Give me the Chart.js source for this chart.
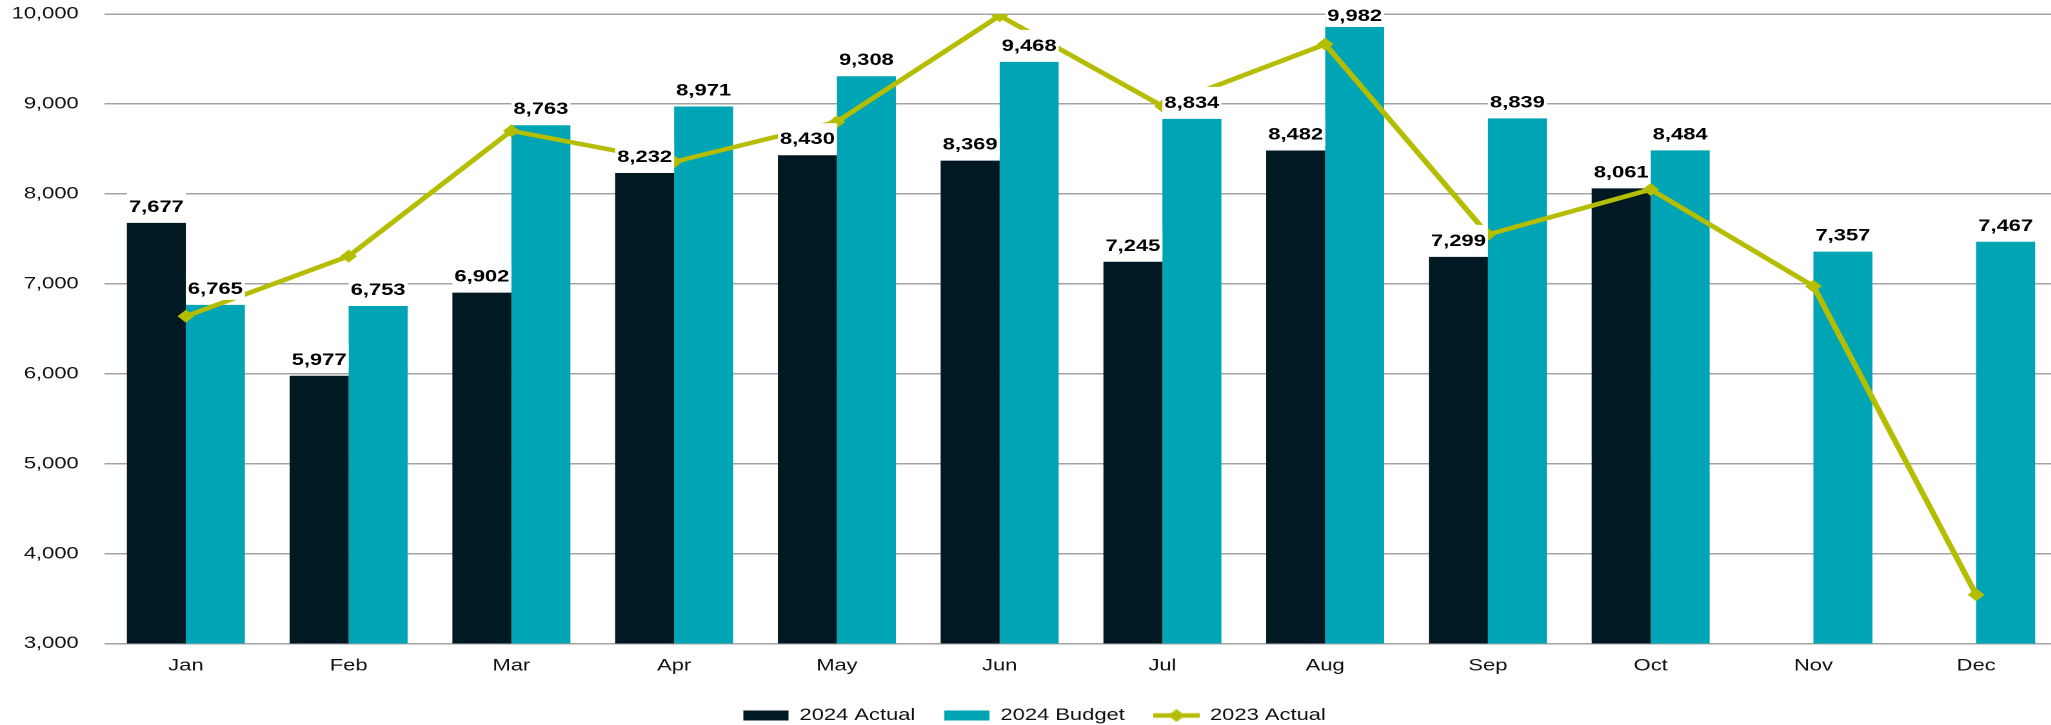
<!DOCTYPE html>
<html>
<head>
<meta charset="utf-8">
<title>Monthly Actual vs Budget</title>
<script src="https://cdn.jsdelivr.net/npm/chart.js@4/dist/chart.umd.min.js"></script>
<style>
    html, body { margin: 0; padding: 0; overflow: hidden; background: #fff; }
    /* the reference is drawn wide, text included, so stretch the whole chart */
    #wrap { position: relative; width: 1595px; height: 734px; transform: scaleX(1.29); transform-origin: 0 0; }
</style>
</head>
<body>
<div id="wrap"><canvas id="monthChart"></canvas></div>
<script>
const months = ['Jan', 'Feb', 'Mar', 'Apr', 'May', 'Jun', 'Jul', 'Aug', 'Sep', 'Oct', 'Nov', 'Dec'];
const actual2024 = [7677, 5977, 6902, 8232, 8430, 8369, 7245, 8482, 7299, 8061, null, null];
const budget2024 = [6765, 6753, 8763, 8971, 9308, 9468, 8834, 9982, 8839, 8484, 7357, 7467];
const actual2023 = [6639, 7307, 8701, 8356, 8802, 9981, 8976, 9663, 7548, 8049, 6973, 3542];
const yTicks = [3000, 4000, 5000, 6000, 7000, 8000, 9000, 10000];

const darkNavy = '#011923';
const teal = '#00A5B5';
const olive = '#B5BD00';
const fontFamily = '"Liberation Sans", Arial, sans-serif';

document.addEventListener('DOMContentLoaded', function () {
    renderMonthChart();
});

// small line + diamond used as the legend marker of the 2023 line
function lineMarker() {
    const c = document.createElement('canvas');
    c.width = 36;
    c.height = 14;
    const g = c.getContext('2d');
    g.strokeStyle = olive;
    g.lineWidth = 4.5;
    g.beginPath();
    g.moveTo(0, 7);
    g.lineTo(36, 7);
    g.stroke();
    g.fillStyle = olive;
    g.beginPath();
    g.moveTo(11.5, 7);
    g.lineTo(18, 0.5);
    g.lineTo(24.5, 7);
    g.lineTo(18, 13.5);
    g.closePath();
    g.fill();
    return c;
}

// value labels on white boxes above the bars
const barLabels = {
    id: 'barLabels',
    afterDatasetsDraw(chart) {
        const ctx = chart.ctx;
        ctx.save();
        ctx.font = 'bold 17px ' + fontFamily;
        ctx.textAlign = 'center';
        ctx.textBaseline = 'alphabetic';
        [0, 1].forEach(i => {
            const meta = chart.getDatasetMeta(i);
            meta.data.forEach((bar, j) => {
                const v = chart.data.datasets[i].data[j];
                if (v === null || v === undefined) return;
                const text = v.toLocaleString('en-US');
                const w = ctx.measureText(text).width;
                const bw = Math.min(w + 6, bar.width);
                const base = Math.max(bar.y - 11, 21);
                ctx.fillStyle = '#fff';
                ctx.fillRect(bar.x - bw / 2, base - 21, bw, 27);
                ctx.fillStyle = '#000';
                ctx.fillText(text, bar.x, base);
            });
        });
        ctx.restore();
    }
};

function renderMonthChart() {
    const ctx = document.getElementById('monthChart').getContext('2d');
    const marker = lineMarker();

    new Chart(ctx, {
        type: 'bar',
        data: {
            labels: months,
            datasets: [{
                label: '2024 Actual',
                data: actual2024,
                backgroundColor: darkNavy,
                borderWidth: 0,
                categoryPercentage: 0.725,
                barPercentage: 1.0
            }, {
                label: '2024 Budget',
                data: budget2024,
                backgroundColor: teal,
                borderWidth: 0,
                categoryPercentage: 0.725,
                barPercentage: 1.0
            }, {
                type: 'line',
                label: '2023 Actual',
                data: actual2023,
                borderColor: olive,
                backgroundColor: olive,
                borderWidth: 4.5,
                tension: 0,
                pointStyle: 'rectRot',
                pointRadius: 6.5,
                pointHoverRadius: 6.5,
                pointBorderWidth: 0,
                pointBackgroundColor: olive,
                order: -1   // draw the line over the bars
            }]
        },
        options: {
            responsive: true,
            maintainAspectRatio: false,
            devicePixelRatio: 2,
            animation: false,
            layout: {
                autoPadding: false,
                padding: { top: 14, left: 9, right: 0, bottom: 0 }
            },
            scales: {
                x: {
                    grid: { display: false, drawTicks: false },
                    border: { display: false },
                    ticks: {
                        padding: 12,
                        maxRotation: 0,
                        color: '#111',
                        font: { family: fontFamily, size: 17 }
                    },
                    afterFit: function (scale) {
                        scale.height = 41;
                        scale.paddingLeft = 0;
                        scale.paddingRight = 0;
                    }
                },
                y: {
                    min: yTicks[0],
                    max: yTicks[yTicks.length - 1],
                    afterBuildTicks: function (scale) {
                        scale.ticks = yTicks.map(v => ({ value: v }));
                    },
                    grid: { color: '#a3a3a3', lineWidth: 1.5, drawTicks: false },
                    border: { display: false },
                    ticks: {
                        padding: 20,
                        color: '#111',
                        font: { family: fontFamily, size: 17 },
                        callback: function (value) {
                            return value.toLocaleString('en-US');
                        }
                    },
                    afterFit: function (scale) {
                        scale.width = 72;
                        scale.paddingTop = 0;
                        scale.paddingBottom = 0;
                    }
                }
            },
            plugins: {
                legend: {
                    position: 'bottom',
                    labels: {
                        color: '#111',
                        font: { family: fontFamily, size: 17 },
                        usePointStyle: true,
                        pointStyleWidth: 35,
                        boxWidth: 35,
                        boxHeight: 10,
                        padding: 22.5,
                        sort: (a, b) => a.datasetIndex - b.datasetIndex,
                        generateLabels: function (chart) {
                            const items = Chart.defaults.plugins.legend.labels.generateLabels(chart);
                            items.forEach(item => {
                                item.lineWidth = 0;
                                item.pointStyle = item.datasetIndex === 2 ? marker : 'rect';
                            });
                            return items;
                        }
                    }
                },
                tooltip: { enabled: false }
            }
        },
        plugins: [barLabels]
    });
}
</script>
</body>
</html>
